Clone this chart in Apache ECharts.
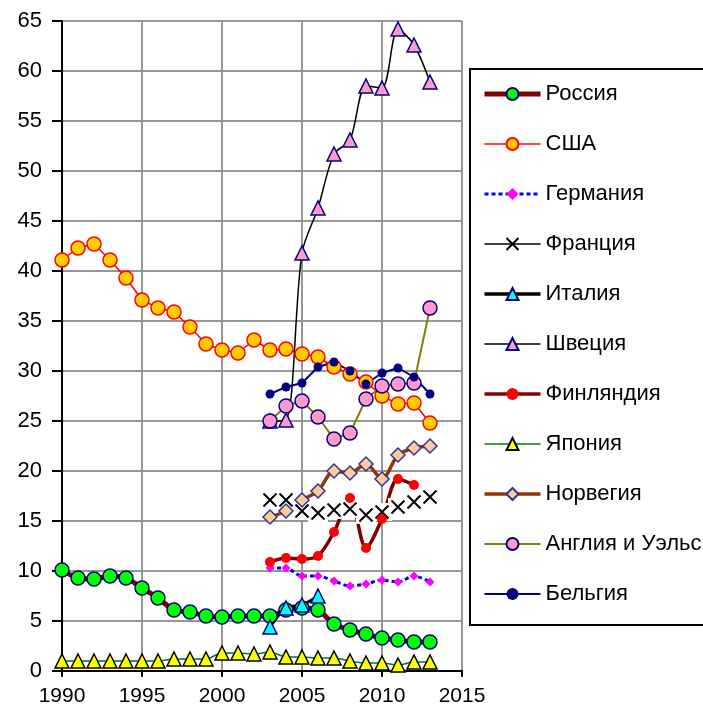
<!DOCTYPE html>
<html lang="ru">
<head>
<meta charset="utf-8" />
<title>chart</title>
<script src="https://cdn.jsdelivr.net/npm/echarts@6/dist/echarts.min.js"></script>
<style>
html, body { margin: 0; padding: 0; background: #fff; }
#main { width: 703px; height: 711px; }
</style>
</head>
<body>
<div id="main"></div>
<script type="text/javascript">
// years
var yearsLong = [1990, 1991, 1992, 1993, 1994, 1995, 1996, 1997, 1998, 1999, 2000, 2001,
                 2002, 2003, 2004, 2005, 2006, 2007, 2008, 2009, 2010, 2011, 2012, 2013];
var yearsShort = [2003, 2004, 2005, 2006, 2007, 2008, 2009, 2010, 2011, 2012, 2013];

// values
var russia  = [10.1, 9.3, 9.2, 9.5, 9.3, 8.3, 7.3, 6.1, 5.9, 5.5, 5.4, 5.5, 5.5, 5.5, 6.1, 6.3, 6.1, 4.7, 4.1, 3.7, 3.3, 3.1, 2.9, 2.9];
var usa     = [41.1, 42.3, 42.7, 41.1, 39.3, 37.1, 36.3, 35.9, 34.4, 32.7, 32.1, 31.8, 33.1, 32.1, 32.2, 31.7, 31.4, 30.4, 29.7, 28.9, 27.5, 26.7, 26.8, 24.8];
var japan   = [1.0, 1.0, 1.0, 1.0, 1.0, 1.0, 1.0, 1.2, 1.2, 1.2, 1.8, 1.8, 1.7, 1.9, 1.4, 1.4, 1.3, 1.3, 1.0, 0.8, 0.8, 0.6, 0.9, 0.9];
var germany = [10.3, 10.3, 9.5, 9.5, 9.0, 8.5, 8.7, 9.1, 8.9, 9.5, 8.9];
var france  = [17.1, 17.1, 16.0, 15.8, 16.1, 16.2, 15.6, 15.9, 16.4, 16.9, 17.4];
var italy   = [4.4, 6.3, 6.6, 7.5];
var sweden  = [25.0, 25.1, 41.8, 46.3, 51.7, 53.1, 58.5, 58.3, 64.2, 62.6, 58.9];
var finland = [10.9, 11.3, 11.2, 11.5, 13.9, 17.3, 12.3, 15.2, 19.2, 18.6];
var norway  = [15.4, 16.0, 17.1, 18.0, 20.0, 19.8, 20.7, 19.2, 21.6, 22.3, 22.5];
var england = [25.0, 26.5, 27.0, 25.4, 23.2, 23.8, 27.2, 28.5, 28.7, 28.8, 36.3];
var belgium = [27.7, 28.4, 28.8, 30.4, 30.9, 30.0, 28.7, 29.8, 30.3, 29.4, 27.7];

var xTicks = [1990, 1995, 2000, 2005, 2010, 2015];

function pairs(years, vals) {
    return vals.map(function (v, i) { return [years[i], v]; });
}

var crossPath = 'path://M0,0L10,10M10,0L0,10';
var font = 'Liberation Sans, Arial, sans-serif';

var chart = echarts.init(document.getElementById('main'));

var option = {
    animation: false,
    backgroundColor: '#fff',
    textStyle: { fontFamily: font },
    grid: { left: 62, top: 21, right: 241, bottom: 40 },
    xAxis: {
        type: 'value',
        min: xTicks[0], max: xTicks[xTicks.length - 1], interval: 5,
        axisLine: { onZero: false, lineStyle: { color: '#000', width: 2 } },
        axisTick: { show: true, length: 6, lineStyle: { color: '#000', width: 2 } },
        axisLabel: { color: '#000', fontSize: 21, margin: 15, formatter: function (v) { return String(v); } },
        splitLine: { show: true, lineStyle: { color: '#969696', width: 2 } }
    },
    yAxis: {
        type: 'value',
        min: 0, max: 65, interval: 5,
        axisLine: { show: true, onZero: false, lineStyle: { color: '#000', width: 2 } },
        axisTick: { show: true, length: 10, lineStyle: { color: '#000', width: 2 } },
        axisLabel: { color: '#000', fontSize: 22, margin: 20 },
        splitLine: { show: true, lineStyle: { color: '#969696', width: 2 } }
    },
    graphic: [{
        type: 'rect',
        shape: { x: 470, y: 69, width: 240, height: 556 },
        style: { fill: '#fff', stroke: '#000', lineWidth: 2 },
        z: 0
    }],
    legend: {
        orient: 'vertical',
        left: 482, top: 83,
        padding: 0,
        itemWidth: 56, itemHeight: 15, itemGap: 28,
        textStyle: { fontSize: 22, color: '#000', fontFamily: font },
        data: [
            { name: 'Россия', lineStyle: { width: 5 } },
            { name: 'США', lineStyle: { width: 1.5 } },
            { name: 'Германия', lineStyle: { width: 3 } },
            { name: 'Франция', lineStyle: { color: '#000', width: 1.5, opacity: 1 } },
            { name: 'Италия', lineStyle: { width: 3.5 } },
            { name: 'Швеция', lineStyle: { width: 1.5 } },
            { name: 'Финляндия', lineStyle: { width: 3.5 } },
            { name: 'Япония', lineStyle: { width: 1.5 } },
            { name: 'Норвегия', lineStyle: { width: 3.5 } },
            { name: 'Англия и Уэльс', lineStyle: { width: 2 } },
            { name: 'Бельгия', lineStyle: { width: 2 } }
        ]
    },
    series: [
        {
            name: 'Россия', type: 'line', smooth: 0.3,
            data: pairs(yearsLong, russia),
            lineStyle: { color: '#800000', width: 5 },
            symbol: 'circle', symbolSize: 14,
            itemStyle: { color: '#00FF00', borderColor: '#000080', borderWidth: 1.5 }
        },
        {
            name: 'США', type: 'line',
            data: pairs(yearsLong, usa),
            lineStyle: { color: '#FF0000', width: 1.5 },
            symbol: 'circle', symbolSize: 14,
            itemStyle: { color: '#FFCC00', borderColor: '#FF0000', borderWidth: 1.5 }
        },
        {
            name: 'Германия', type: 'line', smooth: 0.3,
            data: pairs(yearsShort, germany),
            lineStyle: { color: '#0000FF', width: 3, type: [4, 3] },
            symbol: 'diamond', symbolSize: 9,
            itemStyle: { color: '#FF00FF', borderWidth: 0 }
        },
        {
            name: 'franceBg', type: 'line', silent: true,
            data: pairs(yearsShort, france),
            lineStyle: { opacity: 0 },
            symbol: 'rect', symbolSize: [20, 18],
            itemStyle: { color: '#fff', borderWidth: 0 }
        },
        {
            name: 'Франция', type: 'line',
            data: pairs(yearsShort, france),
            lineStyle: { color: '#000', width: 1.5, opacity: 0 },
            symbol: crossPath, symbolSize: 13,
            itemStyle: { color: 'none', borderColor: '#000', borderWidth: 2 }
        },
        {
            name: 'Италия', type: 'line', smooth: 0.3,
            data: pairs(yearsShort.slice(0, 4), italy),
            lineStyle: { color: '#000', width: 3 },
            symbol: 'triangle', symbolSize: 14,
            itemStyle: { color: '#00FFFF', borderColor: '#000080', borderWidth: 1.5 }
        },
        {
            name: 'Швеция', type: 'line', smooth: 0.3,
            data: pairs(yearsShort, sweden),
            lineStyle: { color: '#000', width: 1.5 },
            symbol: 'triangle', symbolSize: 14,
            itemStyle: { color: '#FF99CC', borderColor: '#000080', borderWidth: 1.5 }
        },
        {
            name: 'Финляндия', type: 'line', smooth: 0.3,
            data: pairs(yearsShort.slice(0, 10), finland),
            lineStyle: { color: '#800000', width: 3.5 },
            symbol: 'circle', symbolSize: 10,
            itemStyle: { color: '#FF0000', borderWidth: 0 }
        },
        {
            name: 'Япония', type: 'line', smooth: 0.3,
            data: pairs(yearsLong, japan),
            lineStyle: { color: '#008000', width: 1.5 },
            symbol: 'triangle', symbolSize: 14,
            itemStyle: { color: '#FFFF00', borderColor: '#000', borderWidth: 1.5 }
        },
        {
            name: 'Норвегия', type: 'line', smooth: 0.3,
            data: pairs(yearsShort, norway),
            lineStyle: { color: '#993300', width: 3.5 },
            symbol: 'diamond', symbolSize: 14,
            itemStyle: { color: '#FFCC99', borderColor: '#333399', borderWidth: 1.5 }
        },
        {
            name: 'Англия и Уэльс', type: 'line',
            data: pairs(yearsShort, england),
            lineStyle: { color: '#808000', width: 2 },
            symbol: 'circle', symbolSize: 14,
            itemStyle: { color: '#FF99CC', borderColor: '#000080', borderWidth: 1.5 }
        },
        {
            name: 'Бельгия', type: 'line',
            data: pairs(yearsShort, belgium),
            lineStyle: { color: '#000080', width: 2 },
            symbol: 'circle', symbolSize: 9,
            itemStyle: { color: '#000080', borderWidth: 0 }
        }
    ]
};

chart.setOption(option);
</script>
</body>
</html>
